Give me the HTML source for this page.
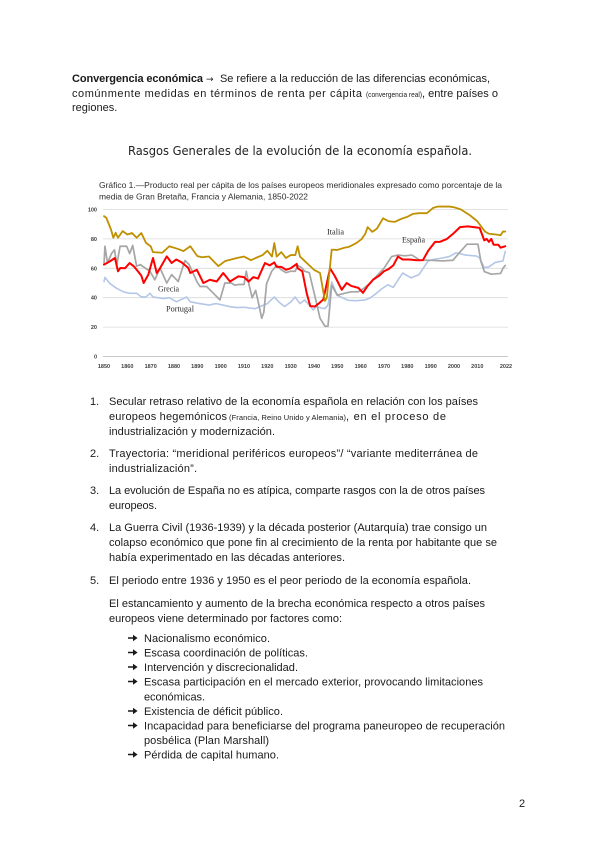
<!DOCTYPE html>
<html><head><meta charset="utf-8"><style>
html,body{margin:0;padding:0;background:#fff;}
svg{display:block;}
.t{font-family:"Liberation Sans",Arial,sans-serif;font-size:11px;fill:#1a1a1a;}
.s{font-family:"Liberation Sans",Arial,sans-serif;font-size:7.5px;fill:#1a1a1a;}
.ar{font-family:"DejaVu Sans",sans-serif;font-size:9px;fill:#1a1a1a;}
.ax{font-family:"Liberation Sans",Arial,sans-serif;font-size:5.5px;font-weight:bold;fill:#404040;}
.lb{font-family:"Liberation Serif","Times New Roman",serif;font-size:8px;fill:#2a2a2a;}
.ct{font-family:"Liberation Sans",Arial,sans-serif;font-size:8.5px;fill:#2e2e2e;}
</style></head><body>
<svg width="600" height="848" viewBox="0 0 600 848" xmlns="http://www.w3.org/2000/svg">
<rect width="600" height="848" fill="#fff"/>

<!-- intro paragraph -->
<text class="t" x="72" y="82" font-weight="bold" textLength="131" lengthAdjust="spacing">Convergencia económica</text>
<text class="ar" x="206" y="82">→</text>
<text class="t" x="220" y="82" textLength="270" lengthAdjust="spacing">Se refiere a la reducción de las diferencias económicas,</text>
<text class="t" x="72" y="97" textLength="290" lengthAdjust="spacing">comúnmente medidas en términos de renta per cápita</text>
<text class="s" x="366" y="97" font-size="7.5" textLength="56" lengthAdjust="spacingAndGlyphs">(convergencia real)</text>
<text class="t" x="422" y="97" textLength="76" lengthAdjust="spacing">, entre países o</text>
<text class="t" x="72" y="111">regiones.</text>

<!-- section title -->
<text x="128" y="155" font-family="'DejaVu Sans','Liberation Sans',sans-serif" font-size="12" fill="#222" textLength="344" lengthAdjust="spacingAndGlyphs">Rasgos Generales de la evolución de la economía española.</text>

<!-- chart title -->
<text class="ct" x="99" y="188" textLength="403" lengthAdjust="spacingAndGlyphs">Gráfico 1.—Producto real per cápita de los países europeos meridionales expresado como porcentaje de la</text>
<text class="ct" x="99" y="199.5" textLength="209" lengthAdjust="spacingAndGlyphs">media de Gran Bretaña, Francia y Alemania, 1850-2022</text>

<!-- gridlines -->
<g stroke="#d9d9d9" stroke-width="0.8">
<line x1="103" y1="209.5" x2="508" y2="209.5"/>
<line x1="103" y1="238.9" x2="508" y2="238.9"/>
<line x1="103" y1="268.3" x2="508" y2="268.3"/>
<line x1="103" y1="297.7" x2="508" y2="297.7"/>
<line x1="103" y1="327.1" x2="508" y2="327.1"/>
</g>
<line x1="103" y1="356.5" x2="508" y2="356.5" stroke="#c8c8c8" stroke-width="1"/>

<!-- y labels -->
<g class="ax" text-anchor="end">
<text x="97" y="211.5">100</text>
<text x="97" y="241">80</text>
<text x="97" y="270.3">60</text>
<text x="97" y="299.7">40</text>
<text x="97" y="329.1">20</text>
<text x="97" y="358.5">0</text>
</g>
<!-- x labels -->
<g class="ax" text-anchor="middle">
<text x="104" y="368">1850</text>
<text x="127.3" y="368">1860</text>
<text x="150.7" y="368">1870</text>
<text x="174" y="368">1880</text>
<text x="197.3" y="368">1890</text>
<text x="220.7" y="368">1900</text>
<text x="244" y="368">1910</text>
<text x="267.3" y="368">1920</text>
<text x="290.7" y="368">1930</text>
<text x="314" y="368">1940</text>
<text x="337.3" y="368">1950</text>
<text x="360.7" y="368">1960</text>
<text x="384" y="368">1970</text>
<text x="407.3" y="368">1980</text>
<text x="430.7" y="368">1990</text>
<text x="454" y="368">2000</text>
<text x="477.3" y="368">2010</text>
<text x="506" y="368">2022</text>
</g>

<!-- series -->
<g transform="translate(104,356.5) scale(2.333,-1.47)" fill="none" stroke-linejoin="round" stroke-linecap="round">
<polyline vector-effect="non-scaling-stroke" stroke="#b4c7e7" stroke-width="1.6" points="0,51 0.4,53.8 2.5,49.7 5.4,46.4 8.3,44 11,43 14,43 16,40.5 18,40.5 19.7,43 21,40.5 25.4,39.4 28,40 31,37.2 35.4,40.5 37,37.2 41,36 45,35 48,36 51,35 54,33.9 56.9,33.3 60,33.5 64.7,32.5 67,34 70,36 73,40.5 75,37 77.4,34 80,37 81.9,40.5 84,36 86,38.5 88,35 89.7,31.6 91,34 93,33 94.7,32.6 96,35 97.6,50.7 100,41.6 104.7,38.2 108,38 112,38.5 114,39.8 116,42 119,46 121.7,48.8 124,47 126,52 128,56.8 131.6,53.5 135,55.7 138.9,64.9 141,66 145,67 148,68 151,70.6 155,69 159.7,68.3 161,67 163,60.4 165,61 167.7,64 171,65 172,71.5"/>
<polyline vector-effect="non-scaling-stroke" stroke="#a6a6a6" stroke-width="1.7" points="0,62.5 0.4,75 1.5,63.6 3.2,70 4.5,72.5 5.5,62.5 6.9,75 9.7,75 11,70 12.3,75.6 14,61.4 15.5,62.5 19.7,58 21.8,52.2 24,60.2 26.9,50 29,55.7 31.8,51 34.7,65.3 36.5,62.5 39.8,51 41.2,47.6 44,47.6 46.9,43 49.7,38.5 51.8,50 54.6,50 56,48.5 58,49 60,49 61,58 62,50 63.5,40 65,45 66,38 67.6,26 68.5,30 69.7,49.6 71.9,58 74,62 76,59 78,57 80,58 82,58 83,62 85,60 86,58 88,57 90.4,41 92.6,26 94.7,20.6 96,20.6 97.6,48.5 100,41.7 103,43 106,44 109,44 111,46 114,49.6 117,55 120,60 123.3,68 126,69 129,68.5 132,69 135.4,65.5 140,65.5 145,65 149.6,65.5 152,70 155.6,76.4 160.3,76.4 161.5,65 163,57.8 166,56 170,56.5 171,60 172,62"/>
<polyline vector-effect="non-scaling-stroke" stroke="#ff0000" stroke-width="2" points="0,62.5 2.5,64.7 4.7,67 6,58 7,60.2 9,60 11,63.6 13,61 14,59 16,55 17,50 19,55.7 21,67 22.6,56.8 24,60 26.9,68.1 29,63.6 31,66 33.3,64 36.1,60.3 37,56.8 39.8,59 42.6,50 45.4,52.2 48.3,51 51.1,56.8 54,51 57.6,54.5 60,54 62,51 64,54 66,53 69,63.6 71,62 73,64 74,61 76,61 78,59 80,60 82.6,63 83,60 85,58 86.9,43 88.4,34.3 90.4,34 92,36 94,38.8 96.9,60 99,54.5 101.9,45.4 104,50 106,48 109,46.7 111,43.3 113,48 115.4,52.4 118,55 120,58 122,59.5 124,62 126,68 128,66 131,66 134,65.5 136.7,65.6 139,72 141.9,78 144,78 147,80 150,84 152.6,88 156,88.5 161,87.5 163,79 164,80 165,78 166,80 167,76 169,76 170,74 172,75"/>
<polyline vector-effect="non-scaling-stroke" stroke="#bf9000" stroke-width="1.8" points="0,95.5 1,94.3 3,86.4 4,80.8 5,84.2 6,80.8 8,85.3 10,83 12,84 14,80.8 16,84 18,77.3 20,75 21,71 25,70.6 28,75 32,73 34,71.7 37,75 40,68.3 42,67.5 45,68 49,61.5 52,65 57,67 60,68 63,65.5 65,67 68,69 70,72 72,68 73,77.2 74,68 76,71 78,67 80,69 82,69 83,75 84,68 86,65 88,62 90,59 92.6,56.8 94,44 94.7,37.8 95.5,40 97.6,72.7 100,72.5 103,74 105,74.6 108,77 110.4,79.8 112,83.5 113,88 115,84.8 117,87 119.6,94 122,92 124.7,91.6 126,92.6 128,94 130,95 132.4,97 135,97.5 138.4,97.5 141,101 143,102 146,102 148,102 150,101.5 153,100 156.9,96 160,92 163.3,85 165,83.5 168,83 170,82.5 171,85 172,85"/>
</g>

<!-- series labels -->
<text class="lb" x="327" y="234.5" textLength="17" lengthAdjust="spacingAndGlyphs">Italia</text>
<text class="lb" x="402" y="242.5" textLength="23" lengthAdjust="spacingAndGlyphs">España</text>
<text class="lb" x="158" y="291.5" textLength="21" lengthAdjust="spacingAndGlyphs">Grecia</text>
<text class="lb" x="166" y="311.5" textLength="28" lengthAdjust="spacingAndGlyphs">Portugal</text>

<!-- numbered list -->
<text class="t" x="90" y="405">1.</text>
<text class="t" x="109" y="405" textLength="369" lengthAdjust="spacing">Secular retraso relativo de la economía española en relación con los países</text>
<text class="t" x="109" y="420" textLength="118" lengthAdjust="spacing">europeos hegemónicos</text>
<text class="s" x="229" y="420" textLength="117" lengthAdjust="spacing">(Francia, Reino Unido y Alemania)</text>
<text class="t" x="346" y="420" textLength="100" lengthAdjust="spacing">, en el proceso de</text>
<text class="t" x="109" y="435" textLength="166" lengthAdjust="spacing">industrialización y modernización.</text>

<text class="t" x="90" y="457">2.</text>
<text class="t" x="109" y="457" textLength="369" lengthAdjust="spacing">Trayectoria: “meridional periféricos europeos”/ “variante mediterránea de</text>
<text class="t" x="109" y="472" textLength="88" lengthAdjust="spacing">industrialización”.</text>

<text class="t" x="90" y="494">3.</text>
<text class="t" x="109" y="494" textLength="376" lengthAdjust="spacing">La evolución de España no es atípica, comparte rasgos con la de otros países</text>
<text class="t" x="109" y="509" textLength="48" lengthAdjust="spacing">europeos.</text>

<text class="t" x="90" y="531">4.</text>
<text class="t" x="109" y="531" textLength="378" lengthAdjust="spacing">La Guerra Civil (1936-1939) y la década posterior (Autarquía) trae consigo un</text>
<text class="t" x="109" y="546" textLength="388" lengthAdjust="spacing">colapso económico que pone fin al crecimiento de la renta por habitante que se</text>
<text class="t" x="109" y="561" textLength="236" lengthAdjust="spacing">había experimentado en las décadas anteriores.</text>

<text class="t" x="90" y="584">5.</text>
<text class="t" x="109" y="584" textLength="362" lengthAdjust="spacing">El periodo entre 1936 y 1950 es el peor periodo de la economía española.</text>

<text class="t" x="109" y="607" textLength="376" lengthAdjust="spacing">El estancamiento y aumento de la brecha económica respecto a otros países</text>
<text class="t" x="109" y="622" textLength="233" lengthAdjust="spacing">europeos viene determinado por factores como:</text>

<!-- arrow bullets (drawn) -->
<g fill="#1a1a1a">
<path d="M128,637.2 L133,637.2 L133,634.8 L137.6,638 L133,641.2 L133,638.8 L128,638.8 Z"/>
<path d="M128,651.7 L133,651.7 L133,649.3 L137.6,652.5 L133,655.7 L133,653.3 L128,653.3 Z"/>
<path d="M128,666.2 L133,666.2 L133,663.8 L137.6,667 L133,670.2 L133,667.8 L128,667.8 Z"/>
<path d="M128,680.7 L133,680.7 L133,678.3 L137.6,681.5 L133,684.7 L133,682.3 L128,682.3 Z"/>
<path d="M128,710.2 L133,710.2 L133,707.8 L137.6,711 L133,714.2 L133,711.8 L128,711.8 Z"/>
<path d="M128,724.7 L133,724.7 L133,722.3 L137.6,725.5 L133,728.7 L133,726.3 L128,726.3 Z"/>
<path d="M128,753.7 L133,753.7 L133,751.3 L137.6,754.5 L133,757.7 L133,755.3 L128,755.3 Z"/>
</g>
<text class="t" x="144" y="642" textLength="126" lengthAdjust="spacing">Nacionalismo económico.</text>
<text class="t" x="144" y="656.5" textLength="164" lengthAdjust="spacing">Escasa coordinación de políticas.</text>
<text class="t" x="144" y="671" textLength="154" lengthAdjust="spacing">Intervención y discrecionalidad.</text>
<text class="t" x="144" y="685.5" textLength="339" lengthAdjust="spacing">Escasa participación en el mercado exterior, provocando limitaciones</text>
<text class="t" x="144" y="700.5" textLength="61" lengthAdjust="spacing">económicas.</text>
<text class="t" x="144" y="715" textLength="139" lengthAdjust="spacing">Existencia de déficit público.</text>
<text class="t" x="144" y="729.5" textLength="361" lengthAdjust="spacing">Incapacidad para beneficiarse del programa paneuropeo de recuperación</text>
<text class="t" x="144" y="744" textLength="125" lengthAdjust="spacing">posbélica (Plan Marshall)</text>
<text class="t" x="144" y="758.5" textLength="135" lengthAdjust="spacing">Pérdida de capital humano.</text>

<!-- page number -->
<text class="t" x="519" y="807">2</text>
</svg>
</body></html>
